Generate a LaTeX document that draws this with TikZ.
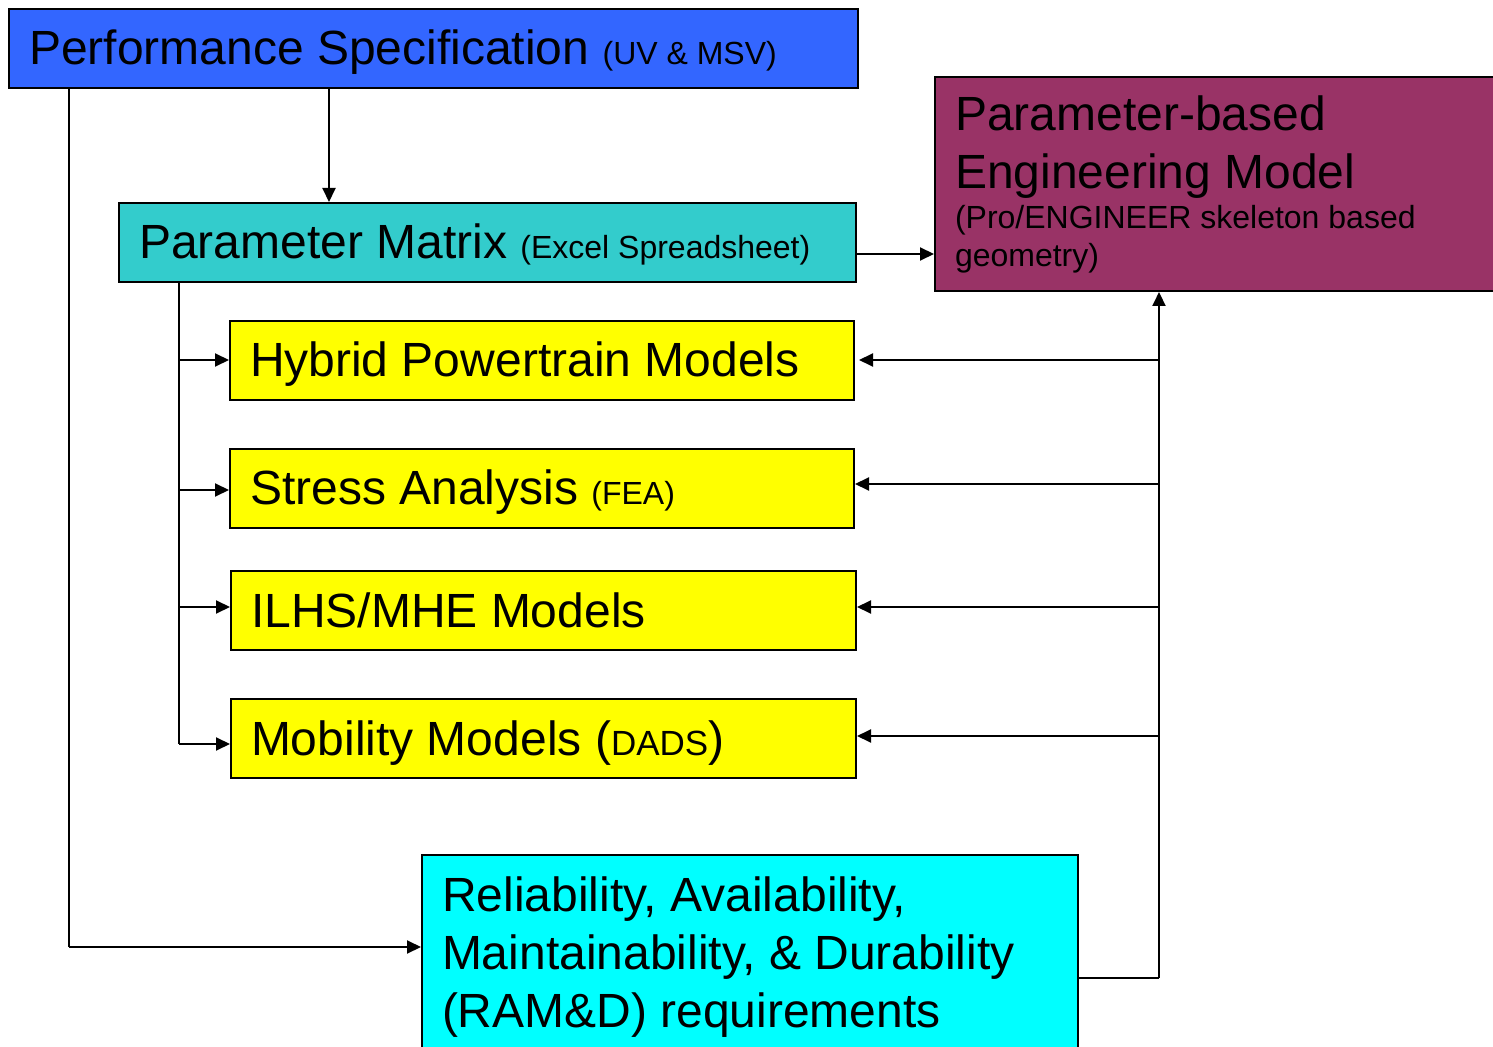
\documentclass[tikz,border=0pt]{standalone}
\usepackage{fontspec}
\setmainfont{Liberation Sans}
\usetikzlibrary{arrows.meta}
\definecolor{perfblue}{HTML}{3366FF}
\definecolor{mtxteal}{HTML}{33CCCC}
\definecolor{pbemplum}{HTML}{993366}
\definecolor{boxyellow}{HTML}{FFFF00}
\definecolor{ramcyan}{HTML}{00FFFF}
\newcommand{\Btxt}{\fontsize{24pt}{29pt}\selectfont\spaceskip=0pt\xspaceskip=0pt\relax}
\newcommand{\Stxt}{\fontsize{16pt}{19pt}\selectfont\spaceskip=0pt\xspaceskip=0pt\relax}
\newcommand{\Mtxt}{\fontsize{17.5pt}{20pt}\selectfont\spaceskip=0pt\xspaceskip=0pt\relax}
\begin{document}
\begin{tikzpicture}[x=0.5pt,y=-0.5pt,
  box/.style={draw=black, line width=1pt, rectangle, anchor=north west,
    inner xsep=10pt, inner ysep=0pt, align=flush left, font=\Btxt},
  oneline/.style={text height=20.5pt, text depth=4pt, minimum height=39.5pt},
  conn/.style={line width=1pt},
  arr/.style={conn, -{Triangle[length=7pt,width=6.5pt]}}]
\useasboundingbox (0,0) rectangle (1493,1047);
\clip (0,0) rectangle (1493,1047);

% boxes
\node[box, oneline, fill=perfblue, minimum width=424.5pt, text width=404.5pt] (perf) at (8,8)
  {\Btxt Performance Specification {\Stxt (UV \& MSV)}};
\node[box, oneline, fill=mtxteal, minimum width=368.5pt, text width=348.5pt] (mtx) at (118,202)
  {\Btxt Parameter Matrix {\Stxt (Excel Spreadsheet)}};
\node[box, fill=pbemplum, minimum width=300pt, minimum height=107pt, text width=280pt] (pbem) at (934,76)
  {\Btxt Parameter-based\\Engineering Model\par\Stxt\vskip1pt (Pro/ENGINEER skeleton based\\geometry)\par};
\node[box, oneline, fill=boxyellow, minimum width=312pt, text width=292pt] (hyb) at (229,320)
  {\Btxt Hybrid Powertrain Models};
\node[box, oneline, fill=boxyellow, minimum width=312pt, text width=292pt] (fea) at (229,448)
  {\Btxt Stress Analysis {\Stxt (FEA)}};
\node[box, oneline, fill=boxyellow, minimum width=312.5pt, text width=292.5pt] (ilhs) at (230,570)
  {\Btxt ILHS/MHE Models};
\node[box, oneline, fill=boxyellow, minimum width=312.5pt, text width=292.5pt] (mob) at (230,698)
  {\Btxt Mobility Models ({\Mtxt DADS})};
\node[box, fill=ramcyan, minimum width=328pt, minimum height=102pt, text width=308pt] (ram) at (421,854)
  {\Btxt Reliability, Availability,\\Maintainability, \& Durability\\(RAM\&D) requirements\par};

% routing points
\coordinate (L) at (69,947);
\coordinate (D) at (329,150);
\coordinate (E) at (890,254);
\coordinate (B) at (179,744);
\coordinate (R) at (1159,978);
\coordinate (lH) at (179,360);
\coordinate (lF) at (179,490);
\coordinate (lI) at (179,607);
\coordinate (rH) at (1159,360);
\coordinate (rF) at (1159,484);
\coordinate (rI) at (1159,607);
\coordinate (rM) at (1159,736);

% connectors
\draw[conn] (perf.south -| L) -- (L);
\draw[arr] (L) -- (ram.west |- L);
\draw[arr] (perf.south -| D) -- (mtx.north -| D);
\draw[arr] (mtx.east |- E) -- (pbem.west |- E);
\draw[conn] (mtx.south -| B) -- (B);
\draw[arr] (lH) -- (hyb.west |- lH);
\draw[arr] (lF) -- (fea.west |- lF);
\draw[arr] (lI) -- (ilhs.west |- lI);
\draw[arr] (B) -- (mob.west |- B);
\draw[conn] (ram.east |- R) -- (R);
\draw[arr] (R) -- (pbem.south -| R);
\draw[arr] (rH) -- ([xshift=2pt]hyb.east |- rH);
\draw[arr] (rF) -- (fea.east |- rF);
\draw[arr] (rI) -- (ilhs.east |- rI);
\draw[arr] (rM) -- (mob.east |- rM);
\end{tikzpicture}
\end{document}
